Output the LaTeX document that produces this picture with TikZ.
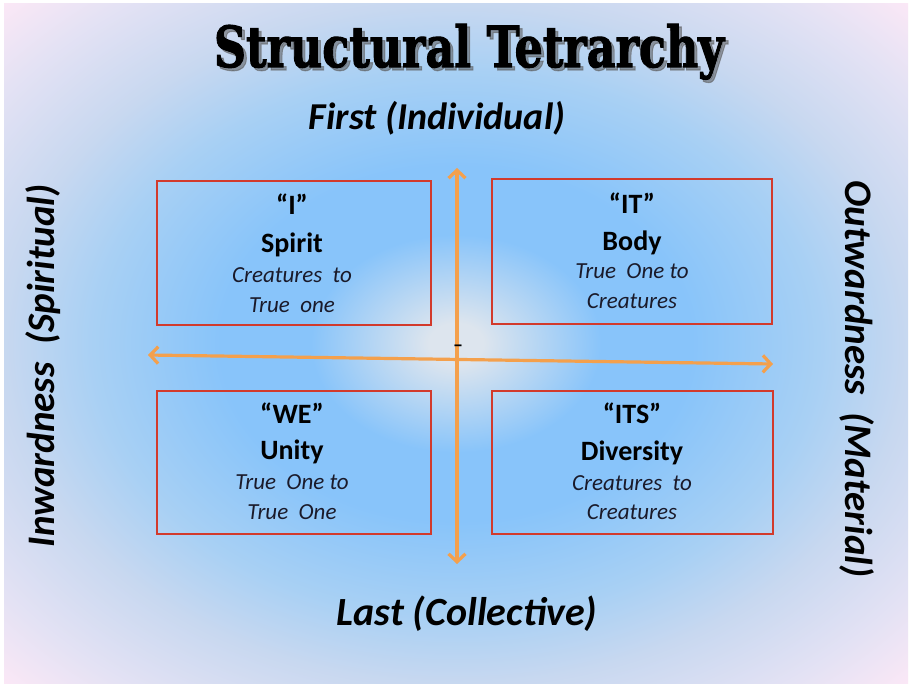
\documentclass[tikz,border=0pt]{standalone}
\usepackage{fontspec}
\setmainfont{Carlito}
\newfontfamily\titlefont[BoldFeatures={FakeBold=2}]{DejaVu Serif}
\usetikzlibrary{arrows.meta,shadings}
\definecolor{cen}{HTML}{DDE5EE}
\definecolor{blu}{HTML}{88C4FA}
\definecolor{blu2}{HTML}{A8D0F4}
\definecolor{lav}{HTML}{C8D8F0}
\definecolor{lav2}{HTML}{E4E2F4}
\definecolor{pnk}{HTML}{FCE8F6}
\definecolor{boxred}{HTML}{D23A2C}
\definecolor{axisor}{HTML}{F4A04C}
\definecolor{itcol}{HTML}{1A1A2A}
\pgfdeclareradialshading{bgshade}{\pgfpoint{0bp}{0bp}}{color(0bp)=(cen); color(3bp)=(cen); color(16bp)=(blu); color(26bp)=(blu); color(40bp)=(blu2); color(50bp)=(lav); color(62bp)=(lav2); color(71bp)=(pnk)}
\begin{document}
\begin{tikzpicture}[x=1pt,y=-1pt,
  bline/.style={anchor=base,font=\fontsize{28}{28}\selectfont\bfseries},
  iline/.style={anchor=base,font=\fontsize{23}{23}\selectfont\itshape,text=itcol},
  lab/.style={font=\fontsize{38}{38}\selectfont\bfseries\itshape},
  qbox/.style={draw=boxred,line width=1.4pt},
  axis/.style={draw=axisor,line width=3.2pt,{Straight Barb[length=8pt,width=17pt]}-{Straight Barb[length=8pt,width=17pt]}}]
\useasboundingbox (0,0) rectangle (912,687);
\fill[white] (0,0) rectangle (912,687);
\begin{scope}
\clip (4,4) rectangle (908,683);
\begin{scope}[shift={(456,343.5)},xscale=9.04,yscale=6.79]
\pgftext{\pgfuseshading{bgshade}}
\end{scope}
\end{scope}
% title
\node[anchor=base,text=black!65,opacity=0.55] (titleshadow) at (472,70) {\titlefont\bfseries\resizebox{510pt}{43pt}{Structural Tetrarchy}};
\node[anchor=base] (title) at (469,67) {\titlefont\bfseries\resizebox{510pt}{43pt}{Structural Tetrarchy}};
% axis labels
\node[lab] (first) at (437,118) {First (Individual)};
\node[lab,font=\fontsize{40}{40}\selectfont\bfseries\itshape] (last) at (467,614) {Last (Collective)};
\node[lab,font=\fontsize{39}{39}\selectfont\bfseries\itshape,rotate=90] (inw) at (43,366) {Inwardness\ \ (Spiritual)};
\node[lab,font=\fontsize{39}{39}\selectfont\bfseries\itshape,rotate=-90] (outw) at (857,379) {Outwardness\ \ (Material)};
% boxes
\draw[qbox] (157,181) rectangle (431,325);
\draw[qbox] (492,179) rectangle (772,324);
\draw[qbox] (157,391) rectangle (431,534);
\draw[qbox] (492,391) rectangle (773,534);
% box texts
\node[bline] (i1) at (292,214) {“I”};
\node[bline] (i2) at (292,252) {Spirit};
\node[iline] (i3) at (292,282) {Creatures\ \ to};
\node[iline] (i4) at (292,312) {True\ \ one};
\node[bline] (it1) at (632,213) {“IT”};
\node[bline] (it2) at (632,250) {Body};
\node[iline] (it3) at (632,278) {True\ \ One to};
\node[iline] (it4) at (632,308) {Creatures};
\node[bline] (we1) at (292,423) {“WE”};
\node[bline] (we2) at (292,459) {Unity};
\node[iline] (we3) at (292,489) {True\ \ One to};
\node[iline] (we4) at (292,519) {True\ \ One};
\node[bline] (its1) at (632,423) {“ITS”};
\node[bline] (its2) at (632,460) {Diversity};
\node[iline] (its3) at (632,490) {Creatures\ \ to};
\node[iline] (its4) at (632,519) {Creatures};
% axes
\coordinate (vt) at (457,168);
\coordinate (vb) at (457,564);
\coordinate (hl) at (148,355);
\coordinate (hr) at (773,364);
\draw[axis] (vt) -- (vb);
\draw[axis] (hl) -- (hr);
\node[font=\fontsize{20}{20}\selectfont\bfseries,inner sep=0pt] (dash) at (458,348) {–};
\end{tikzpicture}
\end{document}
